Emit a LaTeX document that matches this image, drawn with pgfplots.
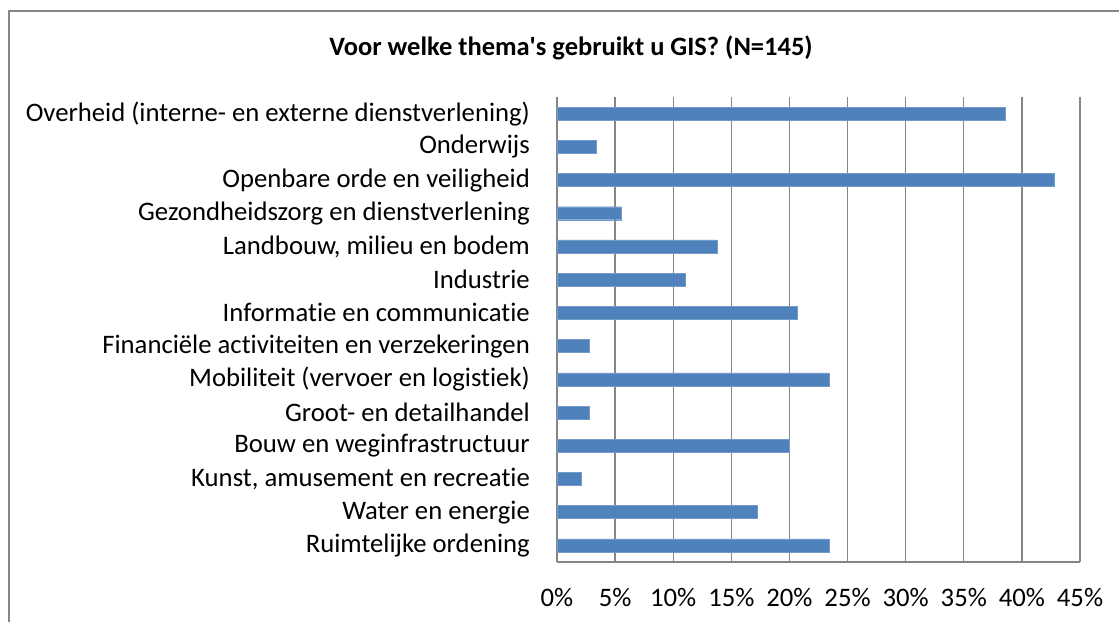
\documentclass[border=0pt]{standalone}
\usepackage{pgfplots}
\pgfplotsset{compat=1.18}
\usepackage{fontspec}
\setmainfont{Carlito}[Ligatures={TeX,NoCommon}]
\definecolor{barblue}{RGB}{79,129,189}
\definecolor{gridgray}{RGB}{134,134,134}
\begin{document}
\begin{tikzpicture}[x=1bp,y=1bp]
\useasboundingbox (0,0) rectangle (1119,622);
\draw[gridgray,line width=2bp] (9,-20) -- (9,611) -- (1140,611);
\node[font=\bfseries\fontsize{26.6}{30}\selectfont] at (571,574) {Voor welke thema\textquotesingle s gebruikt u GIS? (N=145)};
\begin{axis}[
  at={(557bp,60bp)}, anchor=south west,
  scale only axis,
  width=523bp, height=465bp,
  xbar, bar width=13bp,
  xmin=0, xmax=45,
  ymin=-0.5, ymax=13.5,
  y dir=reverse,
  xtick={0,5,...,45},
  xticklabels={0\%,5\%,10\%,15\%,20\%,25\%,30\%,35\%,40\%,45\%},
  ytick={0,...,13},
  yticklabels={Overheid (interne- en externe dienstverlening),Onderwijs,Openbare orde en veiligheid,Gezondheidszorg en dienstverlening,{Landbouw, milieu en bodem},Industrie,Informatie en communicatie,Financiële activiteiten en verzekeringen,Mobiliteit (vervoer en logistiek),Groot- en detailhandel,Bouw en weginfrastructuur,{Kunst, amusement en recreatie},Water en energie,Ruimtelijke ordening},
  major tick length=0pt,
  xmajorgrids,
  grid style={gridgray,line width=1.3bp},
  axis x line*=bottom, axis y line*=left,
  axis line style={gridgray,line width=1.3bp,-},
  ticklabel style={font=\fontsize{26.8}{30}\selectfont, inner sep=0pt},
  yticklabel style={xshift=-27bp},
  xticklabel style={yshift=-26bp},
]
\addplot[fill=barblue, draw=barblue!80!white] coordinates {
(38.6,0) (3.4,1) (42.8,2) (5.5,3) (13.8,4) (11.0,5) (20.7,6) (2.8,7) (23.4,8) (2.8,9) (20.0,10) (2.1,11) (17.2,12) (23.4,13)
};
\end{axis}
\end{tikzpicture}
\end{document}
